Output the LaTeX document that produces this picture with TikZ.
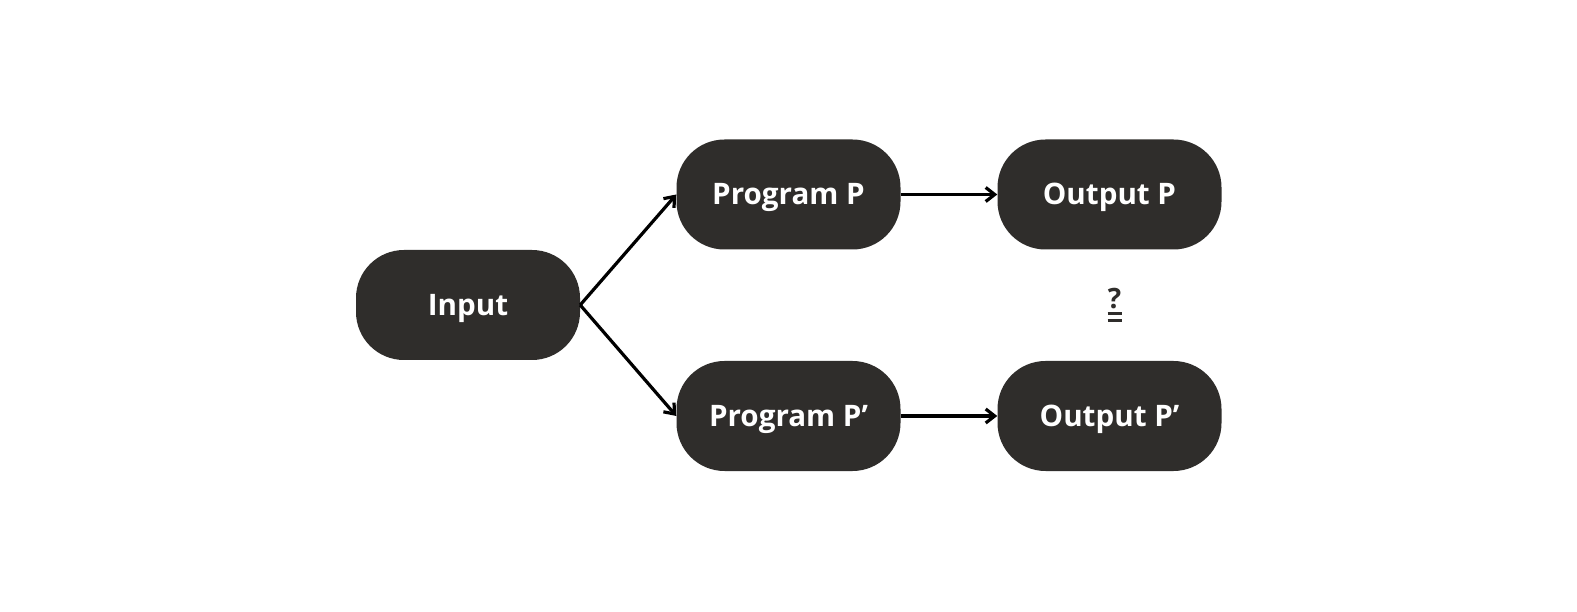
\documentclass[tikz,border=0pt]{standalone}
\usepackage{fontspec}
\setmainfont{Open Sans}
\usetikzlibrary{arrows.meta}
\definecolor{boxfill}{RGB}{47,45,43}
\tikzset{
  pill/.style={fill=boxfill, draw=none, rounded corners=48pt, minimum width=224pt, minimum height=110pt, inner sep=0pt, text height=21pt, text depth=0pt, text=white, font=\fontsize{29.6}{34}\selectfont\bfseries},
  conn/.style={line width=3.2pt, -{Straight Barb[length=9pt,width=14pt,line width=3.2pt]}, black}
}
\begin{document}
\begin{tikzpicture}[x=1pt,y=1pt]
\fill[white] (0,0) rectangle (1577,611);
\useasboundingbox (0,0) rectangle (1577,611);
\node[pill] (in) at (468,306) {Input};
\node[pill] (pp) at (788.5,416.5) {Program P};
\node[pill] (pq) at (788.5,195) {Program P’};
\node[pill] (op) at (1109.5,416.5) {Output P};
\node[pill] (oq) at (1109.5,195) {Output P’};
\node[text=boxfill, font=\fontsize{28}{28}\selectfont\bfseries, inner sep=0pt, anchor=north] (eq) at (1114.5,323) {\vbox{\hbox to 14pt{\hss ?\hss}\kern3.5pt\hrule height 3pt width 14pt\kern3.4pt\hrule height 3pt width 14pt}};
\draw[conn] (in.east) -- (pp.west);
\draw[conn] (in.east) -- (pq.west);
\draw[conn] (pp.east) -- (op.west);
\draw[conn] (pq.east) -- (oq.west);
\end{tikzpicture}
\end{document}
